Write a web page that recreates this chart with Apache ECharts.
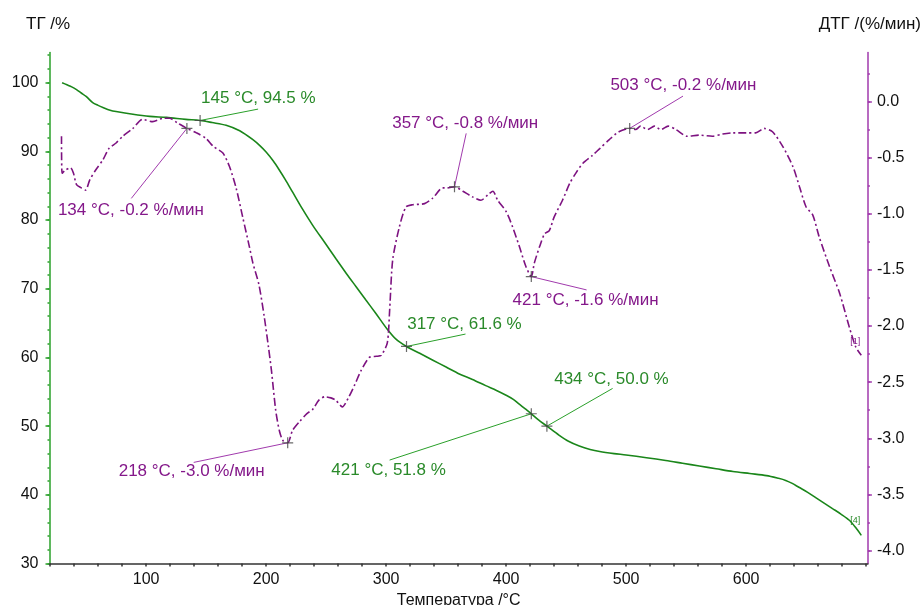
<!DOCTYPE html>
<html><head><meta charset="utf-8">
<script src="https://cdn.jsdelivr.net/npm/echarts@6/dist/echarts.min.js"></script>
<style>html,body{margin:0;padding:0;background:#fff}#c{width:922px;height:605px}</style>
</head><body><div id="c"></div>
<script>
// ---- data ----
const tgTemp  = [30,34,38,42,46,50,55.5,60,64,70,75,89,103,117,133,145,155,166.7,178,189,195,200,206,211,216,222,230,239,249,258.5,267,275,283,291.5,301,308,317,328,339,350,361,372,383,392,400,406,411,416,421,427,434,444,452,461,470,478,490,500,517,533,547,561,575,589,603,617,627,633,638,644,651,658,665,672,679,686,691,696];
const tgValue = [100,99.7,99.4,99.0,98.5,98.0,97.1,96.7,96.4,96.0,95.8,95.4,95.1,94.95,94.66,94.5,94.2,93.8,93.0,91.7,90.8,89.9,88.6,87.3,85.9,84.1,81.7,79.2,76.7,74.3,72.2,70.3,68.4,66.4,64.1,62.7,61.6,60.6,59.6,58.6,57.6,56.8,55.9,55.2,54.5,53.9,53.2,52.5,51.8,50.9,50.0,48.7,47.8,47.1,46.6,46.3,46.0,45.8,45.4,45.0,44.6,44.2,43.8,43.4,43.1,42.8,42.4,42.1,41.7,41.1,40.4,39.6,38.8,38.0,37.2,36.3,35.3,34.1];

const dtgTemp  = [29.5,30,33,37,39.5,42,46,49.5,53,58,64,69,75,80.5,89,97,105.5,114,119.5,126,134,142,150,156,164,169.5,175,180.5,186,189,194,198.5,202,204.5,208,211,214,218,222,228,234,239,244,249,254,258,263.5,269,274,279,286,292,296,301,303,305.5,311,316.5,322,332,339,347,351,357,364,372,379,385,389,393,400,405.5,411,416.5,421,423.5,428,432,436,440,447,453,458,464,472,478,486,494,503,508,512,518,523.5,529,535,541.5,551,561,572,580.5,589,600,608,615,622,630.5,639,644.5,650,655.5,661,669.5,678,686,691.5,696];
const dtgValue = [-0.31,-0.64,-0.61,-0.59,-0.64,-0.74,-0.77,-0.79,-0.70,-0.61,-0.52,-0.42,-0.37,-0.31,-0.24,-0.16,-0.18,-0.15,-0.15,-0.19,-0.24,-0.28,-0.33,-0.40,-0.46,-0.58,-0.77,-1.03,-1.29,-1.44,-1.63,-1.92,-2.19,-2.40,-2.75,-2.93,-3.02,-3.04,-2.93,-2.85,-2.78,-2.74,-2.66,-2.63,-2.64,-2.66,-2.72,-2.63,-2.52,-2.40,-2.28,-2.27,-2.26,-2.15,-1.85,-1.41,-1.12,-0.94,-0.92,-0.91,-0.86,-0.77,-0.77,-0.76,-0.80,-0.85,-0.88,-0.83,-0.80,-0.88,-0.98,-1.12,-1.29,-1.47,-1.56,-1.44,-1.29,-1.18,-1.15,-1.03,-0.88,-0.73,-0.64,-0.55,-0.48,-0.42,-0.34,-0.27,-0.24,-0.25,-0.22,-0.25,-0.22,-0.25,-0.22,-0.25,-0.31,-0.30,-0.31,-0.29,-0.28,-0.28,-0.28,-0.24,-0.27,-0.40,-0.58,-0.76,-0.94,-1.01,-1.21,-1.47,-1.71,-2.01,-2.19,-2.26];

const xTickLabels   = [100,200,300,400,500,600];
const xMinorTicks   = [20,40,60,80,100,120,140,160,180,200,220,240,260,280,300,320,340,360,380,400,420,440,460,480,500,520,540,560,580,600,620,640,660,680,700];
const tgTickLabels  = [30,40,50,60,70,80,90,100];
const tgMinorTicks  = [30,32,34,36,38,40,42,44,46,48,50,52,54,56,58,60,62,64,66,68,70,72,74,76,78,80,82,84,86,88,90,92,94,96,98,100,102,104];
const dtgTickLabels = [-4.0,-3.5,-3.0,-2.5,-2.0,-1.5,-1.0,-0.5,0.0];
const dtgMinorTicks = [-4.0,-3.75,-3.5,-3.25,-3.0,-2.75,-2.5,-2.25,-2.0,-1.75,-1.5,-1.25,-1.0,-0.75,-0.5,-0.25,0.0,0.25];

// annotated points: axis 0 = ТГ, axis 1 = ДТГ
const annotAxis  = [0,1,1,1,1,1,0,0,0];
const annotTemp  = [145,134,218,357,421,503,317,434,421];
const annotValue = [94.5,-0.24,-3.04,-0.76,-1.56,-0.24,61.6,50.0,51.8];
const annotText  = ['145 °C, 94.5 %','134 °C, -0.2 %/мин','218 °C, -3.0 %/мин','357 °C, -0.8 %/мин','421 °C, -1.6 %/мин','503 °C, -0.2 %/мин','317 °C, 61.6 %','434 °C, 50.0 %','421 °C, 51.8 %'];

// ---- layout / styles ----
const annotLayout = [
  {ldx:58, ldy:-11.4, tdx:1, tdy:-22},
  {ldx:-55.6, ldy:70, tdx:-129, tdy:81.7},
  {ldx:-94, ldy:19.6, tdx:-169, tdy:29},
  {ldx:11.7, ldy:-53.4, tdx:-62.3, tdy:-63.4},
  {ldx:55.3, ldy:13.3, tdx:-18.7, tdy:23.3},
  {ldx:53.3, ldy:-32.3, tdx:-19.3, tdy:-43},
  {ldx:59, ldy:-12.4, tdx:0.7, tdy:-21.7},
  {ldx:65.7, ldy:-37.7, tdx:7.3, tdy:-46.7},
  {ldx:-141.7, ldy:46.3, tdx:-200, tdy:56.6}
];
const FONT = '"Liberation Sans", Arial, sans-serif';
const GREEN = '#1a861a', GREEN_T = '#2a8a2a', GREEN_AX = '#2aa02a';
const PURPLE = '#7d1280', PURPLE_T = '#84188a', PURPLE_AX = '#a13aad';

const tgData  = tgTemp.map((t,i)=>[t,tgValue[i]]);
const dtgData = dtgTemp.map((t,i)=>[t,dtgValue[i]]);
const markTG  = [], markDTG = [];
annotTemp.forEach((t,i)=>{ (annotAxis[i]===0?markTG:markDTG).push([t,annotValue[i]]); });

const chart = echarts.init(document.getElementById('c'), null, {renderer:'canvas'});
const plus = 'path://M5 0 L5 10 M0 5 L10 5';
const option = {
  animation:false,
  backgroundColor:'#fff',
  textStyle:{fontFamily:FONT},
  title:[
    {text:'ТГ /%', left:26, top:16, padding:0, textStyle:{fontSize:17, fontWeight:'normal', color:'#111', fontFamily:FONT}},
    {text:'ДТГ /(%/мин)', right:1, top:16, padding:0, textStyle:{fontSize:17, fontWeight:'normal', color:'#111', fontFamily:FONT}}
  ],
  grid:{left:49.5, width:818.4, top:52.5, height:511, containLabel:false, outerBoundsMode:'none'},
  xAxis:{
    type:'value', min:19.5, max:701.5,
    name:'Температура /°C', nameLocation:'middle', nameGap:22,
    nameTextStyle:{fontSize:16, color:'#111', fontFamily:FONT},
    axisLine:{show:true, onZero:false, lineStyle:{color:'#333', width:1.5}},
    axisTick:{show:true, customValues:xMinorTicks, length:3, lineStyle:{color:'#333', width:1.5}},
    axisLabel:{customValues:xTickLabels, fontSize:16, color:'#111', margin:8, fontFamily:FONT},
    splitLine:{show:false}
  },
  yAxis:[
    {type:'value', position:'left', min:30, max:104.4,
     axisLine:{show:true, onZero:false, lineStyle:{color:GREEN_AX, width:1.5}},
     axisTick:{show:true, customValues:tgTickLabels, length:4, lineStyle:{color:GREEN_AX, width:1.5}},
     axisLabel:{customValues:tgTickLabels, fontSize:16, color:'#111', margin:11, fontFamily:FONT},
     splitLine:{show:false}},
    {type:'value', position:'right', min:-4.115, max:0.436,
     axisLine:{show:true, onZero:false, lineStyle:{color:PURPLE_AX, width:1.5}},
     axisTick:{show:true, customValues:dtgTickLabels, length:4, lineStyle:{color:PURPLE_AX, width:1.5}},
     axisLabel:{customValues:dtgTickLabels, fontSize:16, color:'#111', margin:9, fontFamily:FONT,
       formatter:v=>Number(v).toFixed(1)},
     splitLine:{show:false}},
    {type:'value', position:'left', min:30, max:104.4,
     axisLine:{show:false, onZero:false},
     axisTick:{show:true, customValues:tgMinorTicks, length:2, lineStyle:{color:GREEN_AX, width:1.5}},
     axisLabel:{show:false}, splitLine:{show:false}},
    {type:'value', position:'right', min:-4.115, max:0.436,
     axisLine:{show:false, onZero:false},
     axisTick:{show:true, customValues:dtgMinorTicks, length:2, lineStyle:{color:PURPLE_AX, width:1.5}},
     axisLabel:{show:false}, splitLine:{show:false}}
  ],
  series:[
    {type:'line', name:'ТГ', yAxisIndex:0, data:tgData, symbol:'none', smooth:0.3,
     lineStyle:{color:GREEN, width:1.6}},
    {type:'line', name:'ДТГ', yAxisIndex:1, data:dtgData, symbol:'none', smooth:0.25,
     lineStyle:{color:PURPLE, width:1.6, type:[8,3,2,3]}},
    {type:'scatter', yAxisIndex:0, data:markTG, symbol:plus, symbolSize:11, z:5,
     itemStyle:{color:'none', borderColor:'#444', borderWidth:1.2}},
    {type:'scatter', yAxisIndex:1, data:markDTG, symbol:plus, symbolSize:11, z:5,
     itemStyle:{color:'none', borderColor:'#444', borderWidth:1.2}}
  ]
};
chart.setOption(option);

const g = [];
annotTemp.forEach((t,i)=>{
  const ax = annotAxis[i];
  const p = chart.convertToPixel({xAxisIndex:0, yAxisIndex:ax}, [t, annotValue[i]]);
  const L = annotLayout[i];
  const lc = ax===0 ? GREEN_AX : PURPLE_AX;
  const tc = ax===0 ? GREEN_T : PURPLE_T;
  g.push({type:'line', silent:true, z:4, shape:{x1:p[0], y1:p[1], x2:p[0]+L.ldx, y2:p[1]+L.ldy},
          style:{stroke:lc, lineWidth:1}});
  g.push({type:'text', silent:true, z:4, x:p[0]+L.tdx, y:p[1]+L.tdy,
          style:{text:annotText[i], fill:tc, font:'17px '+FONT, textAlign:'left', textVerticalAlign:'middle', align:'left', verticalAlign:'middle'}});
});
// end tags
const endTG = chart.convertToPixel({xAxisIndex:0, yAxisIndex:0}, tgData[tgData.length-1]);
const endDTG = chart.convertToPixel({xAxisIndex:0, yAxisIndex:1}, dtgData[dtgData.length-1]);
g.push({type:'text', silent:true, x:endDTG[0]-6, y:endDTG[1]-14,
        style:{text:'[1]', fill:PURPLE_T, font:'9px '+FONT, textAlign:'center', textVerticalAlign:'middle', align:'center', verticalAlign:'middle'}});
g.push({type:'text', silent:true, x:endTG[0]-6, y:endTG[1]-15,
        style:{text:'[4]', fill:GREEN_T, font:'9px '+FONT, textAlign:'center', textVerticalAlign:'middle', align:'center', verticalAlign:'middle'}});
chart.setOption({graphic:g});
</script>
</body></html>
